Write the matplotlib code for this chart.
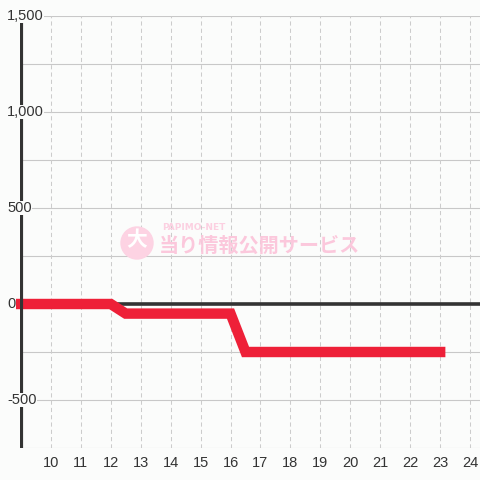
import matplotlib
matplotlib.use("Agg")
import matplotlib.pyplot as plt
import matplotlib.transforms as mtransforms
from matplotlib.patches import Circle

# data
hours = [9, 10, 11, 12, 12.5, 13, 14, 15, 16, 16.5, 17, 18, 19, 20, 21, 22, 23]
values = [0, 0, 0, 0, -50, -50, -50, -50, -50, -250, -250, -250, -250, -250, -250, -250, -250]
xticks = list(range(10, 25))
yticks = [-500, 0, 500, 1000, 1500]
ylabels = ["-500", "0", "500", "1,000", "1,500"]

bg = "#fbfcfb"
fig = plt.figure(figsize=(4.8, 4.8), dpi=100, facecolor=bg)
ax = fig.add_axes([20/480, 32/480, 460/480, 432/480], facecolor=bg)
ax.set_xlim(8.97, 24.33)
ax.set_ylim(-750, 1500)

# grid
for y in range(-750, 1501, 250):
    ax.axhline(y, color="#c8c8c8", lw=0.8, zorder=1)
for x in xticks:
    ax.axvline(x, color="#cccccc", lw=0.75, ls=(0, (4, 3)), zorder=1)

# watermark
ax.add_patch(Circle((137, 237), 16, transform=None, color="#fdd3e3", zorder=2))
fig.text(137/480, 1 - 240/480, "大", color="white", fontsize=15, fontweight="bold",
         ha="center", va="center", family=["Noto Sans CJK JP", "DejaVu Sans"], zorder=3)
fig.text(162/480, 1 - 227/480, "PAPIMO-NET", color="#fcd0e1", fontsize=6.5,
         fontweight="bold", ha="left", va="center", family="DejaVu Sans")
fig.text(159/480, 1 - 245/480, "当り情報公開サービス", color="#fbc8dc", fontsize=14.5,
         fontweight="bold", ha="left", va="center",
         family=["Noto Sans CJK JP", "DejaVu Sans"])

# zero line and series
ax.axhline(0, color="#333333", lw=2.6, zorder=3)
ax.plot(hours, values, color="#ee2038", lw=7.5, solid_joinstyle="miter",
        solid_capstyle="projecting", zorder=4, clip_on=False)

for s in ax.spines.values():
    s.set_visible(False)
ax.axvline(8.97 + 0.05, color="#333333", lw=3, zorder=5)

ax.set_xticks(xticks)
ax.set_xticklabels([str(x) for x in xticks], fontsize=10.5, color="#333333",
                   family="Liberation Sans")
ax.tick_params(axis="x", length=0, pad=6)
ax.set_yticks([])
trans = mtransforms.blended_transform_factory(fig.transFigure, ax.transData)
for y, lab in zip(yticks, ylabels):
    ax.text(7/480, y, lab, transform=trans,
            fontsize=10.5, color="#333333", family="Liberation Sans",
            ha="left", va="center", zorder=6,
            bbox=dict(facecolor=bg, edgecolor="none", pad=0.3))

fig.savefig("out.png", dpi=100, facecolor=bg)
